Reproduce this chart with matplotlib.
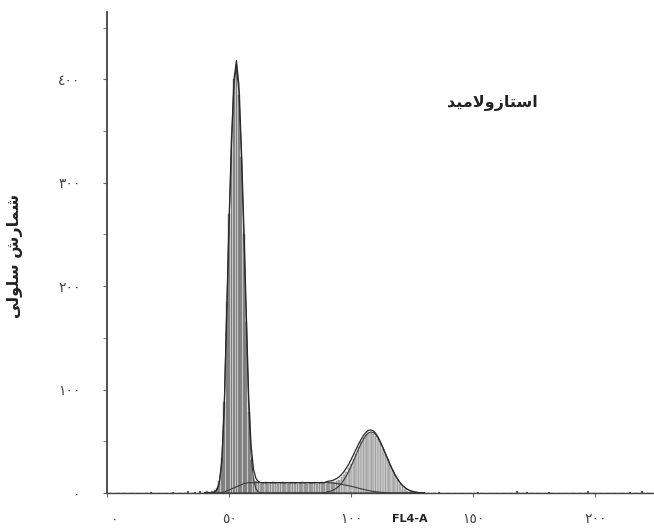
import numpy as np
import matplotlib.pyplot as plt
import matplotlib.transforms as mtransforms
from matplotlib.ticker import MultipleLocator

# DNA content histogram (channels 40..130), cell counts per channel
channels = list(range(40, 131))
counts = [1, 2, 1, 2, 3, 5, 12, 34, 88, 185,
          270, 345, 400, 415, 385, 325, 250, 165, 78, 32,
          15, 12, 10, 9, 10, 11, 9, 10, 11, 10,
          9, 10, 11, 10, 9, 10, 11, 10, 9, 10,
          11, 10, 9, 10, 10, 11, 9, 10, 11, 10,
          9, 10, 11, 11, 12, 13, 15, 17, 20, 24,
          28, 33, 38, 44, 49, 53, 56, 58, 58, 57,
          55, 52, 48, 43, 38, 33, 27, 22, 17, 13,
          9, 6, 4, 2, 1, 1, 0, 0, 0, 0, 0]

# model components (G0/G1, S, G2/M) at the same channels
fit_g1 = [0, 0, 0, 0, 1, 3, 10, 30, 82, 172,
          262, 338, 395, 412, 388, 328, 252, 168, 85, 36,
          13, 4, 1, 0, 0, 0, 0, 0, 0, 0,
          0, 0, 0, 0, 0, 0, 0, 0, 0, 0,
          0, 0, 0, 0, 0, 0, 0, 0, 0, 0,
          0, 0, 0, 0, 0, 0, 0, 0, 0, 0,
          0, 0, 0, 0, 0, 0, 0, 0, 0, 0,
          0, 0, 0, 0, 0, 0, 0, 0, 0, 0,
          0, 0, 0, 0, 0, 0, 0, 0, 0, 0, 0]
fit_s = [0, 0, 0, 0, 0, 0, 0, 0.5, 1, 2,
         3, 4, 5, 6, 7, 8, 9, 9.5, 10, 10,
         10, 10, 10, 10, 10, 10, 10, 10, 10, 10,
         10, 10, 10, 10, 10, 10, 10, 10, 10, 10,
         10, 10, 10, 10, 10, 10, 10, 10, 10, 10,
         10, 10, 9.8, 9.5, 9.2, 8.8, 8.4, 8.0, 7.5, 7.0,
         6.5, 5.9, 5.3, 4.7, 4.1, 3.5, 3.0, 2.5, 2.0, 1.6,
         1.3, 1.0, 0.7, 0.5, 0.3, 0.2, 0.1, 0, 0, 0,
         0, 0, 0, 0, 0, 0, 0, 0, 0, 0, 0]
fit_g2 = [0, 0, 0, 0, 0, 0, 0, 0, 0, 0,
          0, 0, 0, 0, 0, 0, 0, 0, 0, 0,
          0, 0, 0, 0, 0, 0, 0, 0, 0, 0,
          0, 0, 0, 0, 0, 0, 0, 0, 0, 0,
          0, 0, 0, 0, 0, 0, 0, 0, 0, 0,
          1, 1.5, 2.1, 3.2, 4.7, 6.7, 9.3, 12.6, 16.5, 21,
          26, 31.5, 37, 42.5, 47.5, 52, 55.5, 58, 59, 58.5,
          56.5, 53, 48.5, 43.5, 38, 32.5, 27, 22, 17.5, 13.5,
          10, 7.3, 5.2, 3.6, 2.4, 1.6, 1, 0.6, 0.3, 0.2, 0]

# sparse debris events outside the main range
debris_channels = [18, 27, 33, 36, 38, 136, 152, 168, 172, 181, 197, 214, 219]
debris_counts = [1, 1, 2, 1, 2, 1, 1, 2, 1, 1, 2, 1, 2]

x_ticks = [0, 50, 100, 150, 200]
x_ticklabels = ['٠', '٥٠', '١٠٠', '١٥٠', '٢٠٠']
y_ticks = [0, 100, 200, 300, 400]
y_ticklabels = ['٠', '١٠٠', '٢٠٠', '٣٠٠', '٤٠٠']

# Arabic text pre-shaped into presentation forms, visual order
title = '\uFEAA\uFBFF\uFEE3\uFEFB\uFEED\uFEAF\uFE8E\uFE98\uFEB3\uFE8D'
ylabel = '\uFBFD\uFEDF\uFEEE\uFEE0\uFEB3 \uFEB5\uFEAD\uFE8E\uFEE4\uFEB7'

ch = np.array(channels)
cnt = np.array(counts)
envelope = np.array(fit_g1) + np.array(fit_s) + np.array(fit_g2)

fig = plt.figure(figsize=(6.54, 5.31), dpi=100)
ax = fig.add_axes([107 / 654, 38 / 531, 1 - 107 / 654, 481 / 531])

colors = np.where(ch < 61, '#8a8a8a', np.where(ch < 96, '#a8a8a8', '#c9c9c9'))
ax.bar(ch, cnt, width=0.72, color=colors, edgecolor='#6a6a6a', linewidth=0.3, zorder=2)
ax.bar(debris_channels, debris_counts, width=0.8, color='#555555', zorder=2)

# fitted curves
ax.plot(ch, fit_g1, color='#3a3a3a', lw=0.8, zorder=3)
ax.plot(ch, fit_s, color='#3a3a3a', lw=0.8, zorder=3)
ax.plot(ch, fit_g2, color='#3a3a3a', lw=0.8, zorder=3)
ax.plot(ch, envelope, color='#2a2a2a', lw=0.9, zorder=4)
ax.plot([0, 40], [0, 0], color='#444444', lw=1.0, ls=(0, (4, 1)), zorder=3)
ax.plot([130, 225], [0, 0], color='#444444', lw=1.0, ls=(0, (4, 1)), zorder=3)

ax.set_xlim(0, 224)
ax.set_ylim(0, 465)
ax.spines['top'].set_visible(False)
ax.spines['right'].set_visible(False)
ax.spines['left'].set_color('#444444')
ax.spines['bottom'].set_color('#444444')
ax.spines['left'].set_linewidth(1.3)
ax.spines['bottom'].set_linewidth(1.0)

ax.set_xticks(x_ticks)
ax.set_xticklabels(x_ticklabels, family='DejaVu Sans', fontsize=10, color='#444444')
ax.set_yticks(y_ticks)
ax.set_yticklabels(y_ticklabels, family='DejaVu Sans', fontsize=10, color='#444444')
ax.yaxis.set_minor_locator(MultipleLocator(50))
ax.tick_params(axis='y', which='both', length=3, color='#666666', pad=16)
ax.tick_params(axis='x', length=3, color='#666666', pad=11)

# nudge the zero label a little to the right
zero_label = ax.get_xticklabels()[0]
zero_label.set_transform(zero_label.get_transform() +
                         mtransforms.ScaledTranslation(0.08, 0, fig.dpi_scale_trans))

fig.text(410 / 654, 1 - 519 / 531, 'FL4-A', ha='center', va='center',
         fontsize=8, fontweight='bold', color='#222222')
fig.text(492 / 654, 1 - 103 / 531, title, ha='center', va='center',
         fontsize=11.5, fontweight='bold', color='#222222', family='DejaVu Sans')
fig.text(15 / 654, 1 - 256 / 531, ylabel, ha='center', va='center', rotation=90,
         fontsize=11.5, fontweight='bold', color='#222222', family='DejaVu Sans')

fig.savefig('out.png', dpi=100)
